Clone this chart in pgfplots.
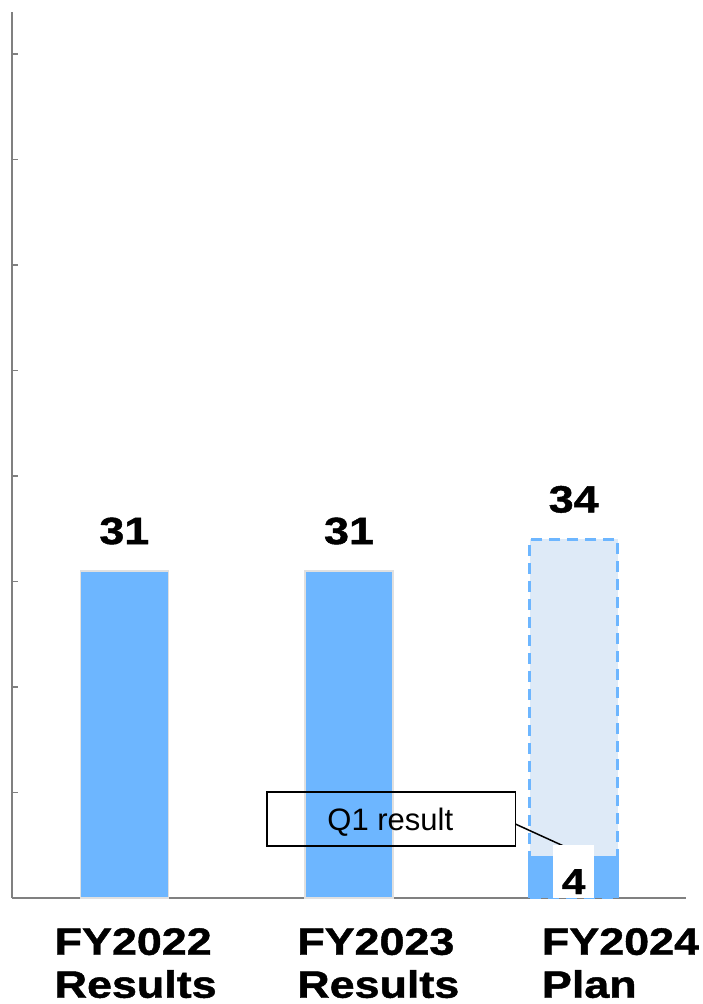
\documentclass[border=0pt]{standalone}
\usepackage{pgfplots}
\pgfplotsset{compat=1.18}
\usepackage{fontspec}
\setmainfont{Liberation Sans}
\newfontfamily\heavy{Liberation Sans Bold}[FakeBold=1.2, FakeStretch=1.18]
\definecolor{barblue}{RGB}{109,182,255}
\definecolor{planfill}{RGB}{222,234,247}
\definecolor{axgray}{RGB}{128,128,128}
\begin{document}
\begin{tikzpicture}[x=1pt,y=1pt]
\path[use as bounding box] (0,0) rectangle (703,1004);
\begin{axis}[
  at={(12pt,106pt)}, anchor=south west,
  scale only axis, width=674pt, height=886pt,
  xmin=-0.5, xmax=2.5, ymin=0, ymax=84,
  axis lines=left, axis line style={-, axgray, line width=1.5pt},
  ytick={10,20,...,80}, yticklabel=\empty,
  y tick style={axgray, line width=1.5pt}, major tick length=6pt, tick align=inside,
  xtick={-0.311,0.769,1.858},
  x tick style={draw=none},
  xticklabels={{FY2022\\Results},{FY2023\\Results},{FY2024\\Plan}},
  xticklabel style={anchor=north west, align=left, inner sep=0pt, yshift=-30pt,
    font=\heavy\fontsize{38}{43}\selectfont},
  clip=false,
]
\addplot[ybar, bar width=88pt, bar shift=0pt, fill=barblue, draw=black!12, line width=1.5pt,
  nodes near coords={\heavy\fontsize{38}{46}\selectfont\pgfmathprintnumber[assume math mode=true]{\pgfplotspointmeta}},
  every node near coord/.append style={anchor=center, yshift=40pt, text=black}]
  coordinates {(0,31) (1,31)};
\addplot[ybar, bar width=88pt, bar shift=0pt, fill=planfill, draw=barblue, line width=2.5pt,
  dash pattern=on 11pt off 7pt,
  nodes near coords={\heavy\fontsize{38}{46}\selectfont\pgfmathprintnumber[assume math mode=true]{\pgfplotspointmeta}},
  every node near coord/.append style={anchor=center, yshift=40pt, text=black}]
  coordinates {(2,34)};
\addplot[ybar, bar width=91pt, bar shift=0pt, fill=barblue, draw=none,
  nodes near coords={\heavy\fontsize{36}{40}\selectfont\pgfmathprintnumber[assume math mode=true]{\pgfplotspointmeta}},
  every node near coord/.append style={anchor=north, yshift=11pt, fill=white, inner sep=0pt,
    minimum width=41pt, text height=49pt, text depth=4pt, align=center, text=black}]
  coordinates {(2,4)};
\draw[black, line width=1.5pt] (axis cs:0.636,4.92) rectangle (axis cs:1.742,10.04);
\node[anchor=base, inner sep=0pt, font=\fontsize{31}{36}\selectfont] at (axis cs:1.184,6.44) {Q1 result};
\draw[black, line width=1.5pt] (axis cs:1.742,7.0) -- (axis cs:1.956,4.92);
\end{axis}
\end{tikzpicture}
\end{document}
